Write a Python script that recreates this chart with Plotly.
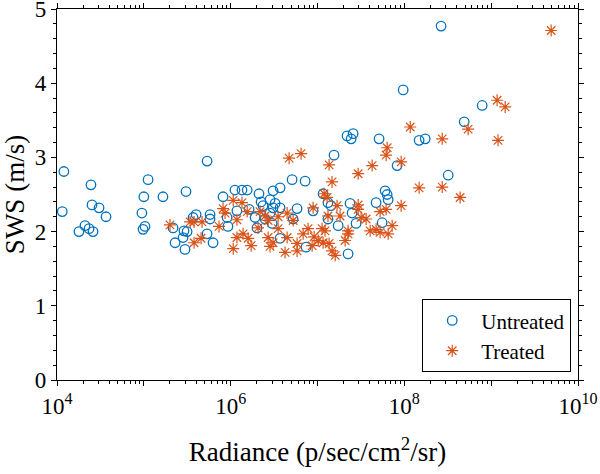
import plotly.graph_objects as go

# Untreated: radiance (p/sec/cm^2/sr) and SWS (m/s)
untreated_rad = [
    1.15e4, 1.2e4, 2.46e4, 2.53e4, 3.05e4, 3.67e4, 2.10e4, 1.79e4, 2.34e4, 2.60e4,
    1.12e5, 1.0e5, 1.66e5, 9.5e4, 1.03e5, 9.8e4, 3.06e5, 2.17e5, 2.9e5, 3.15e5,
    2.83e5, 2.29e5, 2.98e5, 3.69e5, 4.0e5, 5.35e5, 8.17e5, 1.12e6, 1.35e6, 1.55e6,
    9.1e5, 9.3e5, 5.35e5, 6.27e5, 5.79e5, 5.79e5, 1.18e6, 2.12e6, 2.24e6, 2.36e6,
    3.08e6, 2.84e6, 3.25e6, 1.63e6, 1.91e6, 2.01e6, 2.49e6, 2.84e6, 3.08e6, 3.71e6,
    3.71e6, 5.1e6, 7.2e6, 5.82e6, 8.9e6, 1.16e7, 1.32e7, 1.43e7, 5.24e6, 3.0e6,
    3.71e6, 7.39e6, 1.32e7, 1.73e7, 2.25e7, 2.37e7, 2.50e7, 2.78e7, 4.73e7, 5.55e7,
    6.01e7, 6.34e7, 6.51e7, 8.26e7, 1.55e7, 2.19e7, 2.57e7, 2.44e7, 5.12e7, 1.48e8,
    1.74e8, 9.7e7, 7.88e8, 4.89e8, 3.2e8, 2.65e8,
]
untreated_sws = [
    2.27, 2.81, 2.63, 2.36, 2.32, 2.20, 2.08, 2.00, 2.04, 2.00,
    2.70, 2.47, 2.47, 2.25, 2.07, 2.03, 2.54, 2.05, 2.01, 2.00,
    1.92, 1.85, 1.76, 2.19, 2.23, 2.95, 2.47, 2.56, 2.56, 2.56,
    2.19, 2.07, 1.97, 1.85, 2.23, 2.17, 2.28, 2.51, 2.40, 2.35,
    2.55, 2.43, 2.38, 2.30, 2.19, 2.05, 2.17, 2.25, 2.32, 2.59,
    2.32, 2.70, 2.68, 2.31, 2.28, 2.51, 2.39, 2.35, 2.17, 2.11,
    1.91, 1.79, 2.17, 2.08, 1.70, 2.38, 2.25, 2.11, 2.39, 2.12,
    2.55, 2.50, 2.43, 2.89, 3.03, 3.29, 3.32, 3.25, 3.25, 3.23,
    3.25, 3.91, 3.70, 3.48, 2.76, 4.77,
]

# Treated
treated_rad = [
    2.0e5, 3.41e5, 3.79e5, 4.68e5, 3.79e5, 4.56e5, 7.35e5, 8.17e5, 8.62e5, 1.07e6,
    1.18e6, 1.18e6, 1.07e6, 1.35e6, 1.55e6, 2.18e6, 2.49e6, 2.07e6, 2.70e6, 1.39e6,
    1.59e6, 1.72e6, 2.70e6, 2.84e6, 3.52e6, 4.47e6, 5.24e6, 3.52e6, 7.79e6, 1.13e7,
    6.83e6, 4.47e6, 1.02e7, 1.16e7, 8.67e6, 5.82e6, 5.82e6, 4.23e6, 1.47e7, 1.60e7,
    2.25e7, 2.08e7, 3.08e6, 8.9e6, 1.19e7, 1.29e7, 1.68e7, 1.82e7, 1.32e7, 1.47e7,
    4.71e6, 6.47e6, 1.36e7, 4.26e7, 6.17e7, 2.94e7, 6.34e7, 9.19e7, 1.17e8, 2.73e8,
    5.43e8, 1.2e9, 1.17e9, 1.45e9, 4.91e9, 1.48e8, 2.73e8, 4.39e8, 9.19e7, 2.94e7,
    2.94e7, 5.26e7, 6.17e7, 3.18e7, 3.63e7, 7.24e7, 2.25e7, 4.04e7, 4.73e7, 5.26e7,
    6.51e7, 9.14e6, 1.36e7, 1.22e7,
]
treated_sws = [
    2.09, 2.13, 2.13, 2.13, 1.85, 1.91, 2.07, 2.31, 2.25, 2.42,
    2.16, 1.92, 1.77, 2.39, 2.27, 2.27, 2.21, 2.05, 2.15, 1.97,
    1.91, 1.81, 1.92, 1.80, 2.20, 2.25, 2.15, 2.04, 2.04, 2.04,
    1.97, 1.92, 1.88, 1.85, 1.81, 1.84, 1.74, 1.72, 1.74, 1.68,
    1.97, 1.88, 1.85, 2.32, 2.51, 2.46, 2.35, 2.21, 2.21, 2.67,
    2.99, 3.05, 2.90, 2.89, 3.03, 2.78, 3.13, 2.94, 3.41, 3.25,
    3.38, 3.23, 3.77, 3.68, 4.71, 2.59, 2.60, 2.46, 2.35, 2.36,
    2.30, 2.27, 2.30, 2.19, 2.17, 2.08, 2.01, 2.01, 2.03, 1.99,
    1.97, 1.93, 1.84, 2.01,
]

x_major = [1e4, 1e5, 1e6, 1e7, 1e8, 1e9, 1e10]
x_major_text = ["10<sup>4</sup>", "", "10<sup>6</sup>", "", "10<sup>8</sup>", "", "10<sup>10</sup>"]
y_ticks = [0, 1, 2, 3, 4, 5]

BLUE = "#0072BD"
ORANGE = "#D95319"
FONT = "Liberation Serif"

x_minor = [m * 10 ** e for e in range(4, 10) for m in range(2, 10)]

fig = go.Figure()
fig.add_trace(go.Scatter(
    x=untreated_rad, y=untreated_sws, mode="markers", name="Untreated",
    marker=dict(symbol="circle-open", size=9.5, color=BLUE, line=dict(width=1.3, color=BLUE)),
))
fig.add_trace(go.Scatter(
    x=treated_rad, y=treated_sws, mode="markers", name="Treated",
    marker=dict(symbol="asterisk-open", size=10, color=ORANGE, line=dict(width=1.2, color=ORANGE)),
))

fig.update_layout(
    width=600, height=474,
    margin=dict(l=57, r=22, t=9, b=94),
    paper_bgcolor="white", plot_bgcolor="white",
    font=dict(family=FONT, size=23, color="black"),
    showlegend=True,
    legend=dict(
        x=0.9866, y=0.0214, xanchor="right", yanchor="bottom",
        bgcolor="white", bordercolor="black", borderwidth=1.2,
        font=dict(family=FONT, size=21, color="black"),
        itemwidth=48, tracegroupgap=0,
    ),
    xaxis=dict(
        type="log", range=[4, 10], automargin=False,
        tickmode="array", tickvals=x_major, ticktext=x_major_text,
        ticks="outside", ticklen=5, tickwidth=1, tickcolor="black",
        minor=dict(tickmode="array", tickvals=x_minor, ticks="outside", ticklen=3, tickwidth=1, tickcolor="black"),
        showline=True, linecolor="black", linewidth=1.3, mirror="ticks",
        showgrid=False, zeroline=False, ticklabeloverflow="allow",
        tickfont=dict(family=FONT, size=23),
        title=dict(text="Radiance (p/sec/cm<sup>2</sup>/sr)", font=dict(family=FONT, size=27), standoff=24),
    ),
    yaxis=dict(
        range=[0, 5], tickmode="array", tickvals=y_ticks, automargin=False,
        ticks="outside", ticklen=5, tickwidth=1, tickcolor="black",
        minor=dict(dtick=0.2, ticks="outside", ticklen=3, tickwidth=1, tickcolor="black"),
        showline=True, linecolor="black", linewidth=1.3, mirror="ticks",
        showgrid=False, zeroline=False, ticklabeloverflow="allow",
        tickfont=dict(family=FONT, size=23),
        title=dict(text="SWS (m/s)", font=dict(family=FONT, size=27), standoff=6),
    ),
)

fig.write_html(
    "out.html",
    config={"displayModeBar": False},
    post_script="document.body.style.margin='0';document.body.style.overflow='hidden';",
)
